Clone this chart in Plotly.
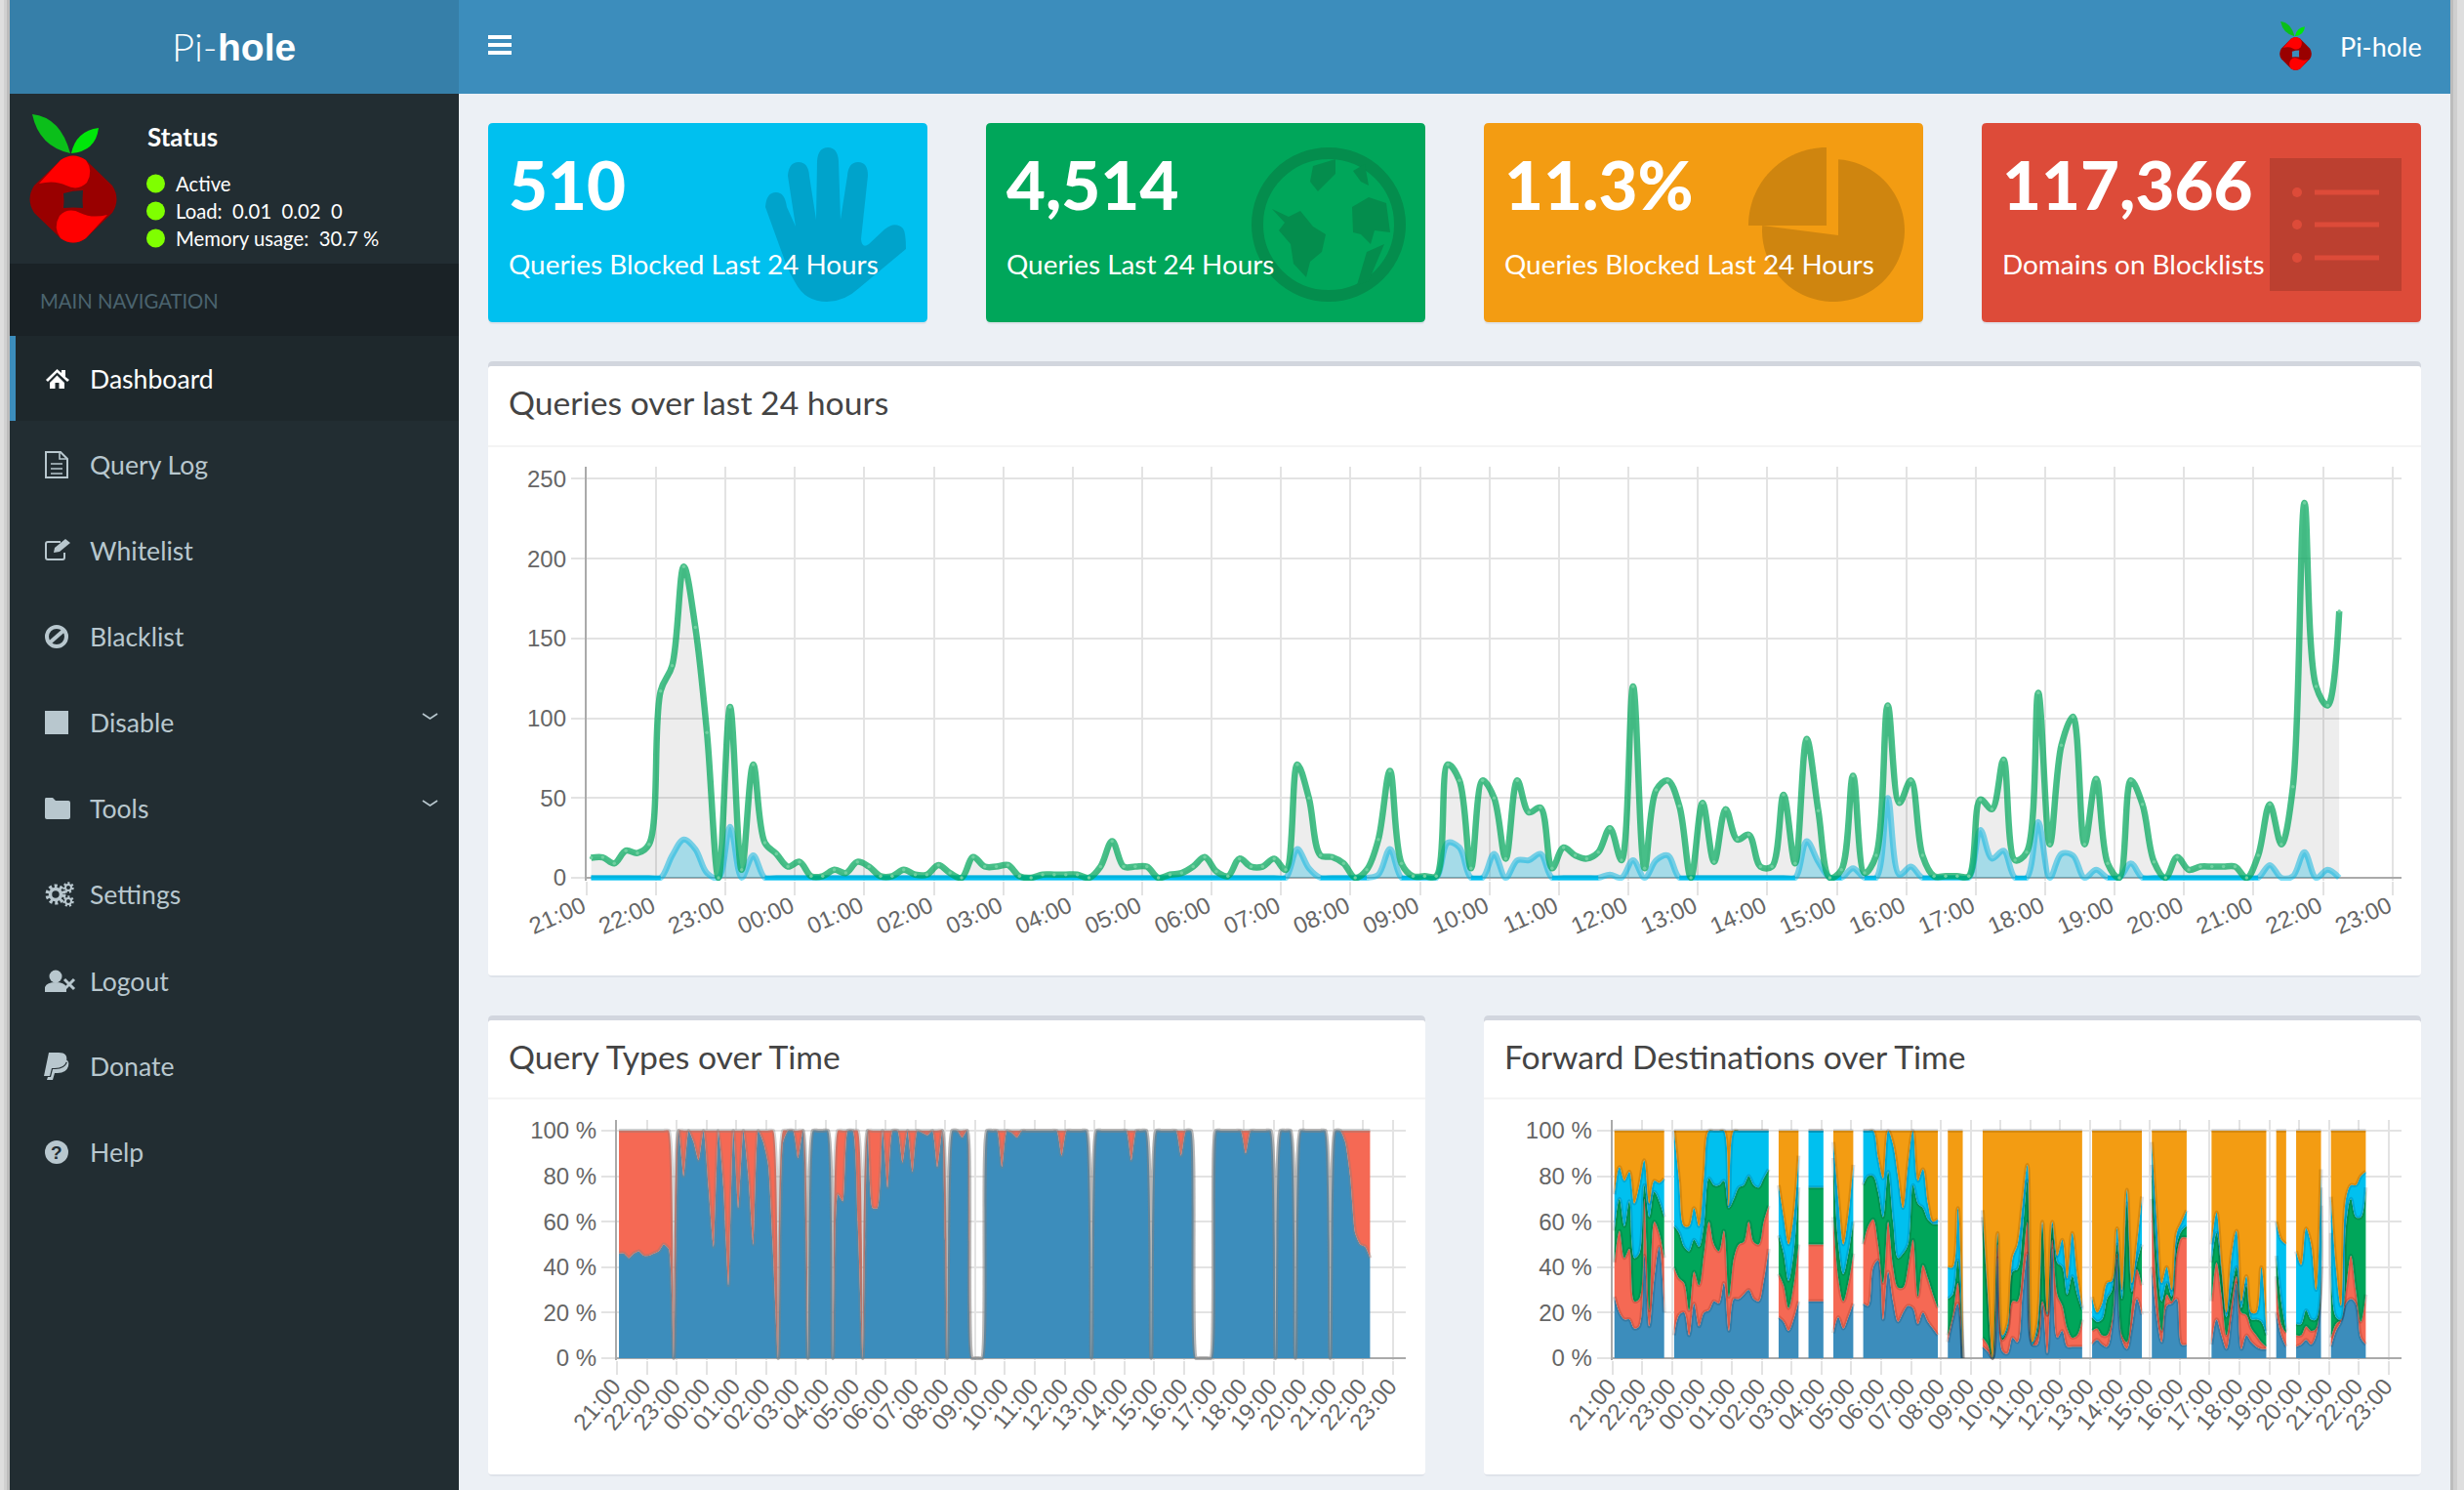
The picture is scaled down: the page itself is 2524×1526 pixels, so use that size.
import numpy as np
import pandas as pd
import plotly.graph_objects as go

W, H = 2524, 1526

# ------------------------------------------------------------------ data
hour_labels = ["21:00","22:00","23:00","00:00","01:00","02:00","03:00","04:00","05:00","06:00",
               "07:00","08:00","09:00","10:00","11:00","12:00","13:00","14:00","15:00","16:00",
               "17:00","18:00","19:00","20:00","21:00","22:00","23:00"]

total_queries = [
 12.5,12.8,9,17,15.5,21,117,133,195,157,91,0,107,5,71,22,15,7,10,1,
 1,5,3,10,7,1,1,5,2,2,8,3,0,13,7,7,8,1,0,2,
 2,2,2,0,7,23,7,7,7,0,2,3,7,13,4,1,12,7,7,12,
 5,71,50,14,13,9,0,5,24,67,9,1,1,1,71,61,6,61,50,12,
 61,41,44,6,19,14,12,16,31,11,120,6,55,61,45,0,47,10,43,24,
 27,7,7,52,9,87,42,0,5,64,3,14,108,47,61,14,1,1,1,1,
 49,43,74,11,16,116,21,83,101,21,62,9,0,61,46,10,0,13,5,7,
 7,7,7,0,14,46,21,57,235,120,108,167]

blocked_queries = [
 0,0,0,0,0,0,0,14,24,18,3,0,32,0,14,0,0,0,0,0,
 0,0,0,0,0,0,0,0,0,0,0,0,0,0,0,0,0,0,0,0,
 0,0,0,0,0,0,0,0,0,0,0,0,0,0,0,0,0,0,0,0,
 0,18,6,0,0,0,0,0,2,18,0,0,0,0,22,19,0,0,15,0,
 11,11,15,0,0,0,0,0,2,0,11,0,11,14,0,0,0,0,0,0,
 0,0,0,0,0,23,10,0,0,6,0,0,50,2,7,0,0,0,0,0,
 30,12,17,0,0,35,0,15,14,0,5,0,0,9,0,0,0,0,0,0,
 0,0,0,0,0,8,0,1,16,0,5,0]

type_a_pct = [
 46,46,44,46,47,45,45,46,47,50,48,0,100,80,100,95,87,100,75,49,
 100,75,32,100,66,100,80,50,100,95,85,45,0,95,100,100,88,100,0,100,
 100,100,100,0,72,69,100,100,60,0,100,66,66,100,75,100,100,86,100,82,
 100,99,98,100,84,100,0,100,100,97,100,0,0,0,100,100,100,84,100,99,
 97,100,100,100,100,100,100,100,100,89,100,100,100,100,100,0,100,100,100,100,
 100,100,100,87,100,100,100,0,100,100,100,100,100,89,100,100,0,0,0,0,
 100,100,100,100,100,100,90,100,100,100,100,100,0,100,100,100,0,100,100,100,
 100,100,100,0,100,100,95,80,55,50,49,44]

type_total_pct = [
 100,100,100,100,100,100,100,100,100,100,100,0,100,100,100,100,100,100,100,100,
 100,100,100,100,100,100,100,100,100,100,100,100,0,100,100,100,100,100,0,100,
 100,100,100,0,100,100,100,100,100,0,100,100,100,100,100,100,100,100,100,100,
 100,100,100,100,100,100,0,100,100,100,100,0,0,0,100,100,100,100,100,100,
 100,100,100,100,100,100,100,100,100,100,100,100,100,100,100,0,100,100,100,100,
 100,100,100,100,100,100,100,0,100,100,100,100,100,100,100,100,0,0,0,0,
 100,100,100,100,100,100,100,100,100,100,100,100,0,100,100,100,0,100,100,100,
 100,100,100,0,100,100,100,100,100,100,100,100]

# upper edge of each stacked band, in percent, None where nothing was forwarded
dest_blue_top = [
 27,20,17,17,13,14,45,14,35,49,20,None,
 10,19,20,10,24,14,20,21,25,24,33,12,26,26,28,30,26,25,34,48,None,
 18,16,12,17,25,None,
 25,25,25,25,None,
 11,18,13,18,24,None,
 24,23,40,43,17,38,25,16,20,23,22,15,20,16,13,10,None,
 7,17,24,0,None,None,None,
 5,3,0,44,3,2,9,7,28,46,6,6,24,2,48,9,12,5,5,5,5,None,
 6,8,6,5,14,44,8,4,14,26,19,None,
 40,18,7,23,24,26,6,6,None,None,None,None,
 6,17,10,4,18,33,4,10,7,5,4,4,None,
 20,10,5,None,
 5,6,8,6,10,40,None,
 5,12,16,24,26,24,9,6]

dest_red_top = [
 42,56,44,48,25,26,70,21,60,55,44,None,
 40,35,33,21,38,32,46,60,50,47,56,27,44,50,51,60,51,50,60,67,None,
 37,32,22,32,50,None,
 50,50,50,50,None,
 62,35,25,33,46,None,
 50,58,61,50,33,60,40,31,31,40,52,27,41,35,28,22,None,
 10,19,33,0,None,None,None,
 9,6,0,50,8,12,25,25,40,60,7,10,25,19,52,28,23,13,9,10,17,None,
 12,13,10,10,17,46,10,7,24,39,32,None,
 70,30,12,28,25,46,53,53,None,None,None,None,
 25,42,28,10,24,36,20,19,13,10,7,5,None,
 36,15,11,None,
 10,10,14,12,13,67,None,
 9,15,17,30,45,30,16,28]

dest_green_top = [
 56,70,58,69,44,46,76,62,73,69,62,None,
 58,55,49,47,52,49,59,79,76,76,78,66,70,75,76,80,76,75,79,83,None,
 54,46,34,46,75,None,
 75,75,75,75,None,
 88,50,37,46,60,None,
 76,80,80,73,62,82,60,44,46,50,76,68,66,61,59,59,None,
 26,28,43,0,None,None,None,
 62,28,0,54,9,13,38,39,55,78,6,12,58,19,58,42,40,28,36,28,21,None,
 18,16,17,26,30,50,26,68,29,42,50,None,
 85,45,25,33,27,50,56,58,None,None,None,None,
 42,55,38,18,30,40,22,32,17,17,16,10,None,
 45,25,12,None,
 15,15,21,17,17,75,None,
 55,18,17,58,70,62,62,75]

dest_cyan_top = [
 72,84,78,82,68,76,87,68,78,77,79,None,
 100,78,58,58,66,58,80,100,100,100,100,67,100,100,100,100,100,100,100,100,None,
 76,62,50,62,89,None,
 100,100,100,100,None,
 95,70,50,63,85,None,
 100,100,100,88,79,100,94,80,66,85,100,78,83,68,60,61,None,
 40,40,66,0,None,None,None,
 65,30,0,55,10,15,44,50,68,85,7,15,60,20,60,45,52,35,55,36,22,None,
 27,20,24,33,34,57,30,74,33,50,71,None,
 95,60,33,40,30,55,60,65,None,None,None,None,
 50,64,40,20,45,56,25,36,20,20,40,12,None,
 60,52,50,None,
 47,41,57,50,30,83,None,
 71,40,23,70,76,76,80,82]

dest_orange_top = [
 100,100,100,100,100,100,100,100,100,100,100,None,
 100,100,100,100,100,100,100,100,100,100,100,100,100,100,100,100,100,100,100,100,None,
 100,100,100,100,100,None,
 100,100,100,100,None,
 100,100,100,100,100,None,
 100,100,100,100,100,100,100,100,100,100,100,100,100,100,100,100,None,
 100,100,100,100,None,None,None,
 100,100,100,100,100,100,100,100,100,100,100,100,100,100,100,100,100,100,100,100,100,None,
 100,100,100,100,100,100,100,100,100,100,100,None,
 100,100,100,100,100,100,100,100,None,None,None,None,
 100,100,100,100,100,100,100,100,100,100,100,100,None,
 100,100,100,None,
 100,100,100,100,100,100,None,
 100,100,100,100,100,100,100,100]

for a in (total_queries, blocked_queries, type_a_pct, type_total_pct, dest_blue_top,
          dest_red_top, dest_green_top, dest_cyan_top, dest_orange_top):
    assert len(a) == 152, len(a)

times = pd.date_range("2017-06-01 21:04", periods=152, freq="10min").strftime("%Y-%m-%d %H:%M").tolist()
hour_ticks = pd.date_range("2017-06-01 21:00", periods=27, freq="1h").strftime("%Y-%m-%d %H:%M").tolist()
blocked_baseline = [0 if v == 0 else None for v in blocked_queries]

# ------------------------------------------------------------------ helpers
def X(x): return x / W
def Y(y): return 1 - y / H

shapes, notes = [], []

def P(d, ox=0, oy=0, sx=1, sy=1):
    toks, out, i = d.split(), [], 0
    while i < len(toks):
        if toks[i].isalpha():
            out.append(toks[i]); i += 1
        else:
            out.append(f"{X(ox + sx*float(toks[i])):.6f},{Y(oy + sy*float(toks[i+1])):.6f}"); i += 2
    return " ".join(out)

def path(d, fill=None, line=None, lw=0, **kw):
    s = dict(type="path", xref="paper", yref="paper", path=P(d, **kw), layer="below",
             line=dict(width=lw, color=line or "rgba(0,0,0,0)"))
    if fill: s["fillcolor"] = fill
    shapes.append(s)

def rect(x0, y0, x1, y1, fill):
    shapes.append(dict(type="rect", xref="paper", yref="paper", x0=X(x0), x1=X(x1), y0=Y(y1), y1=Y(y0),
                       fillcolor=fill, line=dict(width=0), layer="below"))

def rrect(x0, y0, x1, y1, fill, r=5):
    path(f"M {x0+r} {y0} L {x1-r} {y0} Q {x1} {y0} {x1} {y0+r} L {x1} {y1-r} Q {x1} {y1} {x1-r} {y1} "
         f"L {x0+r} {y1} Q {x0} {y1} {x0} {y1-r} L {x0} {y0+r} Q {x0} {y0} {x0+r} {y0} Z", fill)

def circle(cx, cy, r, fill=None, line=None, lw=0, dash=None):
    s = dict(type="circle", xref="paper", yref="paper", x0=X(cx-r), x1=X(cx+r), y0=Y(cy+r), y1=Y(cy-r),
             line=dict(width=lw, color=line or "rgba(0,0,0,0)"), layer="below")
    if dash: s["line"]["dash"] = dash
    if fill: s["fillcolor"] = fill
    shapes.append(s)

def text(t, x, y, size, color, family="Lato", anchor="left", weight=None):
    f = dict(size=size, color=color, family=family)
    if weight: f["weight"] = weight
    notes.append(dict(text=t, x=X(x), y=Y(y), xref="paper", yref="paper", xanchor=anchor, yanchor="middle",
                      showarrow=False, font=f, borderpad=0))

def wedge(cx, cy, r, a0, a1, tipx, tipy, fill):
    pts = [(cx + r*np.sin(np.radians(a)), cy - r*np.cos(np.radians(a))) for a in np.linspace(a0, a1, 60)]
    d = "M " + " L ".join(f"{a:.2f} {b:.2f}" for a, b in pts) + f" L {tipx} {tipy} Z"
    path(d, fill)

# ------------------------------------------------------------------ page chrome
rect(0, 0, 4, H, "#dedede")
rect(4, 0, 7, H, "#d0d0d0")
rect(7, 0, 10, H, "#bcbcbc")
rect(2510, 0, 2513, H, "#bcbcbc")
rect(2513, 0, 2517, H, "#cfcfcf")
rect(2517, 0, W, H, "#dedede")
rect(10, 0, 470, 96, "#367fa9")
rect(470, 0, 2510, 96, "#3c8dbc")
rect(10, 96, 470, H, "#222d32")
rect(10, 270, 470, 344, "#1a2226")
rect(10, 344, 470, 431, "#1e282c")
rect(10, 344, 16, 431, "#3c8dbc")

for y0 in (36, 44, 52):
    rect(500, y0, 524, y0 + 4, "white")

text("Pi-", 175, 48, 40, "white", family="Lato", weight=300)
text("<b>hole</b>", 222, 48, 39, "white", family="Liberation Sans")
text("Pi-hole", 2395.5, 47, 27, "white")

def logo(ox, oy, s_x, s_y, bg):
    kw = dict(ox=ox, oy=oy, sx=s_x, sy=s_y)
    path("M 33 117 Q 62 120 72 157 Q 40 150 33 117 Z", "#0bbf1a", **kw)
    path("M 101 131 Q 78 134 73 157 Q 98 155 101 131 Z", "#00e60a", **kw)
    path("M 62 164 Q 75 155 88 164 L 115 190 Q 124 204 115 218 L 88 244 Q 75 253 62 244 "
         "L 35 218 Q 26 204 35 190 Z", "#990000", **kw)
    path("M 65 198 Q 75 195 85 195 Q 84 205 85 213 Q 75 212 65 213 Q 66 206 65 198 Z", bg, **kw)
    path("M 40 188 L 62 164 Q 75 155 88 164 Q 96 175 89 187 Q 80 196 68 190 Q 56 184 40 188 Z", "#ff0000", **kw)
    path("M 110 220 L 88 244 Q 75 253 62 244 Q 54 233 61 221 Q 70 212 82 218 Q 94 224 110 220 Z", "#ff0000", **kw)

logo(0, 0, 1, 1, "#222d32")
logo(2335 - 30*0.367, 22 - 117*0.379, 0.367, 0.379, "#3c8dbc")

text("<b>Status</b>", 150, 140, 26, "white")
for cy, t in ((188, "Active"), (216, "Load:  0.01  0.02  0"), (244, "Memory usage:  30.7 %")):
    circle(159.5, cy, 9.5, "#7fff00")
    text(t.replace("  ", "&nbsp;&nbsp;"), 179, cy, 20.3, "white")
text("MAIN NAVIGATION", 40, 308, 20.3, "#4b646f")

nav = [("Dashboard", 388), ("Query Log", 476), ("Whitelist", 564), ("Blacklist", 652), ("Disable", 740),
       ("Tools", 828), ("Settings", 916), ("Logout", 1005), ("Donate", 1092), ("Help", 1180)]
for label, cy in nav:
    text(label, 91, cy, 26.6, "white" if label == "Dashboard" else "#b8c7ce")

SB = "#b8c7ce"
O = 46
path("M 1 1 L 12.5 -10 L 17 -6 L 17 -9 L 21 -9 L 21 -2 L 25 1 L 23 3 L 12.5 -6.5 L 3 3 Z", "white", ox=O, oy=388)
path("M 5 4 L 12.5 -3.5 L 20 4 L 20 10 L 14.5 10 L 14.5 4 L 10.5 4 L 10.5 10 L 5 10 Z", "white", ox=O, oy=388)
path("M 1 -13 L 16 -13 L 23 -6 L 23 13 L 1 13 Z", None, SB, 2, ox=O, oy=476)
path("M 15 -13 L 15 -6 L 23 -6 M 6 -1 L 18 -1 M 6 4 L 18 4 M 6 9 L 18 9", None, SB, 1.6, ox=O, oy=476)
path("M 16 -9 L 3 -9 Q 1 -9 1 -7 L 1 7 Q 1 9 3 9 L 18 9 Q 20 9 20 7 L 20 2", None, SB, 2, ox=O, oy=564)
path("M 9 2 L 10 -3 L 21 -12 L 26 -8 L 15 1 Z", SB, ox=O, oy=564)
circle(58, 652, 10, None, SB, 4)
path("M 50 659 L 66 645", None, SB, 4)
rect(46, 728, 70, 752, SB)
path("M 1 -11 L 8 -11 L 11 -8 L 24 -8 Q 26 -8 26 -6 L 26 9 Q 26 11 24 11 L 2 11 Q 0 11 0 9 L 0 -9 Q 0 -11 1 -11 Z",
     SB, ox=O, oy=828)
circle(57, 916, 8.5, None, SB, 4, dash="3px,2.5px")
circle(57, 916, 5.5, None, SB, 3.5)
for dy in (-7, 7):
    circle(70, 916 + dy, 4.5, None, SB, 2.5, dash="2px,2px")
    circle(70, 916 + dy, 3, None, SB, 2)
circle(57, 1000, 6.5, SB)
path("M 0 11 L 0 6 Q 2 1 11 1 Q 20 1 22 6 L 22 11 Z", SB, ox=O, oy=1005)
path("M 20 -2 L 30 8 M 30 -2 L 20 8", None, SB, 3, ox=O, oy=1005)
path("M 4 -14 L 14 -14 Q 24 -14 22 -5 Q 20 2 10 2 L 7 2 L 5 10 L -1 10 Z", SB, ox=O, oy=1092)
path("M 10 -7 L 17 -7 Q 26 -8 24 0 Q 22 7 13 7 L 10 7 L 8 14 L 2 14 L 3 11 L 6 11 L 8 3 L 11 3 Q 20 3 23 -4 Z",
     SB, ox=O, oy=1092)
circle(58, 1180, 12, SB)
text("<b>?</b>", 58, 1180, 19, "#222d32", family="Liberation Sans", anchor="center")
for cy in (734, 823):
    path(f"M 433 {cy-3} L 440.5 {cy+2} L 448 {cy-3}", None, SB, 1.6)

# cards
cards = [(500, "#00c0ef", "510", "Queries Blocked Last 24 Hours"),
         (1010, "#00a65a", "4,514", "Queries Last 24 Hours"),
         (1520, "#f39c12", "11.3%", "Queries Blocked Last 24 Hours"),
         (2030, "#dd4b39", "117,366", "Domains on Blocklists")]
for x0, col, big, small in cards:
    rrect(x0, 128, x0 + 450, 332, "#dfe3ea", 5)
    rrect(x0, 126, x0 + 450, 330, col, 5)
    text(big, x0 + 20, 188, 69, "white", family="Lato", weight=900)
    text(small, x0 + 19.5, 270, 27.9, "white")

# hand
path("M 784 212 Q 785 197 795 197 Q 804 197 806 212 L 815 232 L 807 180 Q 808 166 818 166 Q 828 166 829 180 "
     "L 836 225 L 837 165 Q 838 151 848 151 Q 858 151 859 165 L 861 225 L 868 180 Q 869 166 879 166 Q 889 166 889 180 "
     "L 882 245 Q 883 255 890 250 L 906 235 Q 917 226 925 234 Q 928 238 928 255 L 880 295 Q 865 309 847 309 "
     "Q 825 309 815 290 Q 808 278 805 270 Z", "#00a3cb")
# globe
GL = "#048d4d"
circle(1361, 230, 73, None, GL, 12)
path("M 1303 214 L 1320 222 L 1332 216 L 1345 232 L 1358 240 L 1354 258 L 1342 268 L 1338 284 L 1325 270 "
     "L 1322 250 L 1310 236 L 1316 228 Z", GL)
path("M 1345 170 L 1368 163 L 1368 178 L 1358 188 L 1350 196 L 1342 186 Z", GL)
path("M 1386 175 L 1398 168 L 1402 190 L 1394 186 Z", GL)
path("M 1385 212 L 1402 202 L 1420 208 L 1424 238 L 1408 236 L 1404 250 L 1394 240 L 1386 238 Z", GL)
path("M 1400 258 L 1418 250 L 1402 288 L 1390 292 Z", GL)
# pie
wedge(1878, 236, 73, 4, 274, 1883, 241, "#cf850f")
wedge(1871, 231, 80, 270, 360, 1871, 231, "#cf850f")
# list
rect(2325, 162, 2460, 298, "#bc4030")
for cy in (197, 230, 264):
    circle(2353, cy, 5, "#dd4b39")
    rect(2371, cy - 2.5, 2437, cy + 2.5, "#dd4b39")

# boxes
boxes = [(500, 370, 2480, 999, 457, "Queries over last 24 hours"),
         (500, 1040, 1460, 1510, 1125, "Query Types over Time"),
         (1520, 1040, 2480, 1510, 1125, "Forward Destinations over Time")]
for x0, y0, x1, y1, yd, title in boxes:
    rrect(x0, y0 + 2, x1, y1 + 2, "#dfe3ea", 5)
    rrect(x0, y0, x1, y1, "#d2d6de", 5)
    rrect(x0, y0 + 5, x1, y1, "white", 3)
    rect(x0, yd - 1, x1, yd + 1, "#f4f4f4")
    text(title, x0 + 19.5, y0 + 41.5, 33.7, "#444444")

# ------------------------------------------------------------------ traces
fig = go.Figure()
FONT = dict(family="Liberation Sans", size=24, color="#666666")
GRID = "#e3e3e3"

def axes(n, x0, x1, y0, y1, hours_span, y_low, y_high, yvals, ylabels, angle, pad_y):
    xa = "xaxis" if n == 1 else f"xaxis{n}"
    ya = "yaxis" if n == 1 else f"yaxis{n}"
    end = pd.Timestamp("2017-06-01 21:00") + pd.Timedelta(hours=hours_span)
    fig.layout[xa] = dict(domain=[X(x0), X(x1)], type="date", anchor=f"y{'' if n==1 else n}",
        range=["2017-06-01 21:00", end.strftime("%Y-%m-%d %H:%M:%S")], automargin=False,
        tickmode="array", tickvals=hour_ticks, ticktext=hour_labels, tickangle=angle,
        showgrid=True, gridcolor=GRID, gridwidth=2, showline=False, zeroline=False,
        ticks="outside", ticklen=pad_y, tickwidth=2, tickcolor=GRID, tickfont=FONT,
        ticklabelstandoff=-12, ticklabelshift=-4)
    fig.layout[ya] = dict(domain=[Y(y1), Y(y0)], anchor=f"x{'' if n==1 else n}", range=[y_low, y_high],
        tickmode="array", tickvals=yvals, ticktext=ylabels, automargin=False,
        showgrid=True, gridcolor=GRID, gridwidth=2, zeroline=True, zerolinecolor="#aaaaaa", zerolinewidth=2,
        showline=True, linecolor="#aaaaaa", linewidth=2,
        ticks="outside", ticklen=14, tickwidth=2, tickcolor=GRID, tickfont=FONT)

# chart 1
axes(1, 600.8, 2460, 478, 902, 26.13, -1.84, 257.6, [0, 50, 100, 150, 200, 250],
     ["0", "50", "100", "150", "200", "250"], -24, 14)
axes(2, 632, 1440, 1147, 1393, 26.43, -0.9, 104.7, [0, 20, 40, 60, 80, 100],
     ["0 %", "20 %", "40 %", "60 %", "80 %", "100 %"], -50, 14)
axes(3, 1651.7, 2460, 1147, 1393, 26.43, -0.9, 104.7, [0, 20, 40, 60, 80, 100],
     ["0 %", "20 %", "40 %", "60 %", "80 %", "100 %"], -50, 14)

def spline(w, color, smooth=1):
    return dict(shape="spline", smoothing=smooth, width=w, color=color)

fig.add_trace(go.Scatter(x=times, y=blocked_queries, mode="lines", fill="tozeroy",
    fillcolor="rgba(0,192,239,0.3)", line=spline(6, "rgba(0,192,239,0.5)"), hoverinfo="skip", xaxis="x", yaxis="y"))
fig.add_trace(go.Scatter(x=times, y=blocked_baseline, mode="lines", line=dict(width=4.5, color="#00c0ef"),
    hoverinfo="skip", xaxis="x", yaxis="y"))
fig.add_trace(go.Scatter(x=times, y=total_queries, mode="lines+markers", fill="tozeroy",
    fillcolor="rgba(0,0,0,0.07)", line=spline(6.5, "rgba(0,166,90,0.72)"),
    marker=dict(size=3.5, color="#6fd0a0"), hoverinfo="skip", xaxis="x", yaxis="y"))

# chart 2
fig.add_trace(go.Scatter(x=times, y=type_a_pct, mode="lines", fill="tozeroy", fillcolor="#3c8dbc",
    line=spline(4, "rgba(130,130,130,0.35)", 0.55), hoverinfo="skip", xaxis="x2", yaxis="y2"))
fig.add_trace(go.Scatter(x=times, y=type_total_pct, mode="lines", fill="tonexty", fillcolor="#f56954",
    line=spline(4, "rgba(130,130,130,0.35)", 0.55), hoverinfo="skip", xaxis="x2", yaxis="y2"))

# chart 3: one stack for every unbroken run of points
bands = [(dest_blue_top, "#3c8dbc"), (dest_red_top, "#f56954"), (dest_green_top, "#00a65a"),
         (dest_cyan_top, "#00c0ef"), (dest_orange_top, "#f39c12")]
runs, start = [], None
for i, v in enumerate(dest_orange_top + [None]):
    if v is not None and start is None:
        start = i
    if v is None and start is not None:
        runs.append((start, i)); start = None
for a, b in runs:
    for k, (vals, col) in enumerate(bands):
        fig.add_trace(go.Scatter(x=times[a:b], y=vals[a:b], mode="lines", fill="tozeroy" if k == 0 else "tonexty",
            fillcolor=col, line=spline(4, "rgba(0,0,0,0.12)"), hoverinfo="skip", xaxis="x3", yaxis="y3"))

fig.update_layout(width=W, height=H, autosize=False, margin=dict(l=0, r=0, t=0, b=0, pad=0),
    paper_bgcolor="#ecf0f5", plot_bgcolor="rgba(0,0,0,0)", showlegend=False, shapes=shapes, annotations=notes,
    font=dict(family="Lato"))

fig.write_html("out.html", config={"displayModeBar": False},
    post_script="document.body.style.margin='0';document.documentElement.style.overflow='hidden';")
